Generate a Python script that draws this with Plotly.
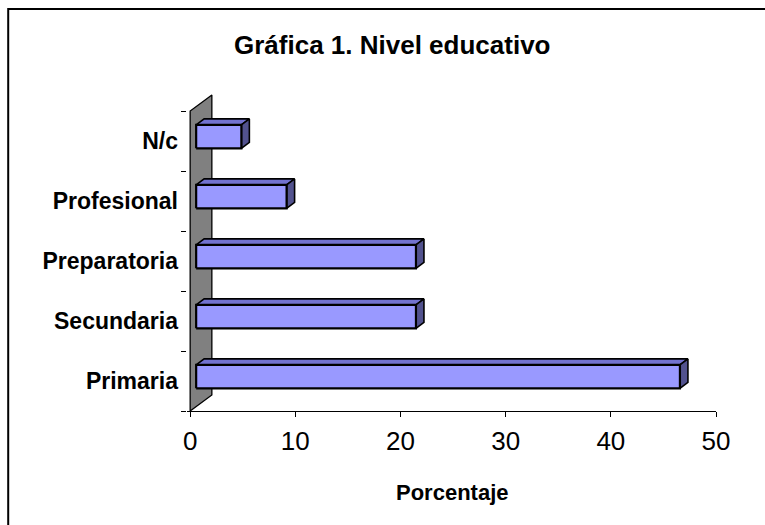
import plotly.graph_objects as go

# ---- data ----
categories = ["Primaria", "Secundaria", "Preparatoria", "Profesional", "N/c"]
values = [46.0, 20.9, 20.9, 8.6, 4.3]
x_ticks = [0, 10, 20, 30, 40, 50]
title_text = "Gráfica 1. Nivel educativo"
x_title = "Porcentaje"

# ---- geometry / style (pixels) ----
W, H = 765, 525
PX_X0, PX_X50 = 190, 716          # x pixel of value 0 and 50
PX_AXIS_Y = 411                   # x-axis line
BAND = 60                         # px per category
ppx = (PX_X50 - PX_X0) / 50.0     # px per unit (x)
ppy = BAND                        # px per unit (y)

x_lo = -0.3
y_lo, y_hi = -0.5, 4.8
margin_l = PX_X0 + x_lo * ppx
margin_r = W - PX_X50
margin_b = H - PX_AXIS_Y
margin_t = PX_AXIS_Y - (y_hi - y_lo) * ppy

def ux(px):
    return px / ppx

def uy(px):
    return px / ppy

wall_dx, wall_dy = ux(21.7), uy(16)
front_dx, front_dy = ux(6), uy(4.4)
depth_dx, depth_dy = ux(8), uy(6)
half_h = uy(11.7)

FRONT = "#9999FF"
TOP = "#7373D0"
SIDE = "#52528E"
WALL = "#808080"
FONT = "Liberation Sans, Arial, sans-serif"

fig = go.Figure()

def poly(xs, ys, fill, lw=1.6):
    fig.add_trace(go.Scatter(
        x=xs + [xs[0]], y=ys + [ys[0]], mode="lines", fill="toself",
        fillcolor=fill, line=dict(color="black", width=lw),
        hoverinfo="skip", showlegend=False))

# back wall
poly([0, 0, wall_dx, wall_dx],
     [y_lo, 4.5, 4.5 + wall_dy, y_lo + wall_dy], WALL, 1.3)

# 3D bars
for i, v in enumerate(values):
    x0 = front_dx
    x1 = front_dx + v
    yb = i + front_dy - half_h
    yt = i + front_dy + half_h
    # top face
    poly([x0, x1, x1 + depth_dx, x0 + depth_dx],
         [yt, yt, yt + depth_dy, yt + depth_dy], TOP)
    # side face
    poly([x1, x1 + depth_dx, x1 + depth_dx, x1],
         [yb, yb + depth_dy, yt + depth_dy, yt], SIDE)
    # front face
    poly([x0, x1, x1, x0], [yb, yb, yt, yt], FRONT, 2.2)

# outer border (paper coords from pixels)
pw = W - margin_l - margin_r
ph = H - margin_t - margin_b
def paper_x(px):
    return (px - margin_l) / pw
def paper_y(py):
    return (H - margin_b - py) / ph

fig.add_shape(type="rect", xref="paper", yref="paper",
              x0=paper_x(8), x1=paper_x(790), y0=paper_y(9), y1=paper_y(560),
              line=dict(color="black", width=2), fillcolor="rgba(0,0,0,0)",
              layer="above")

fig.add_annotation(text=title_text, xref="paper", yref="paper",
                   x=paper_x(392), y=paper_y(45), showarrow=False,
                   xanchor="center", yanchor="middle",
                   font=dict(family=FONT, size=26, color="black", weight="bold"))
fig.add_annotation(text=x_title, xref="paper", yref="paper",
                   x=paper_x(452), y=paper_y(492), showarrow=False,
                   xanchor="center", yanchor="middle",
                   font=dict(family=FONT, size=22, color="black", weight="bold"))

fig.update_xaxes(range=[x_lo, 50], tickvals=x_ticks, ticktext=[str(t) for t in x_ticks],
                 showline=True, linecolor="black", linewidth=1.2,
                 ticks="outside", ticklen=5, tickcolor="black", tickwidth=1.2,
                 showgrid=False, zeroline=False, ticklabelstandoff=2,
                 tickfont=dict(family=FONT, size=26, color="black"))
fig.update_yaxes(range=[y_lo, y_hi], tickvals=list(range(len(categories))),
                 ticktext=categories, ticks="", showline=False,
                 showgrid=False, zeroline=False, ticklabelstandoff=8,
                 minor=dict(tickvals=[k - 0.5 for k in range(len(categories) + 1)],
                            ticks="outside", ticklen=5, tickcolor="black",
                            tickwidth=1.2, showgrid=False),
                 tickfont=dict(family=FONT, size=23, color="black", weight="bold"))

fig.update_layout(width=W, height=H, plot_bgcolor="white", paper_bgcolor="white",
                  margin=dict(l=margin_l, r=margin_r, t=margin_t, b=margin_b, pad=0),
                  showlegend=False)

fig.write_html("out.html", config={"displayModeBar": False},
               post_script="document.body.style.margin='0';document.body.style.padding='0';")
